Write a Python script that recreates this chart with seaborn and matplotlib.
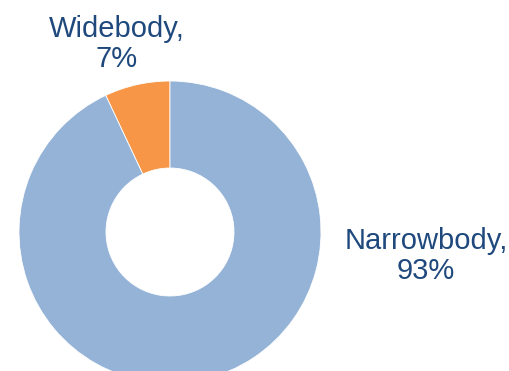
import matplotlib
matplotlib.use("Agg")
import matplotlib.pyplot as plt
import seaborn as sns

categories = ["Widebody", "Narrowbody"]
shares = [7, 93]
labels = ["Widebody,\n7%", "Narrowbody,\n93%"]

sns.set_theme(style="white")
plt.rcParams['font.family'] = ['Liberation Sans', 'DejaVu Sans']

colors = ["#F79646", "#95B3D7"]
text_color = "#1F497D"

W, H = 510, 371
fig = plt.figure(figsize=(W / 100, H / 100), dpi=100)
ax = fig.add_axes([0, 0, 1, 1])

cx, cy = 170, H - 232
r_out, r_in = 151, 64
ax.pie(shares, colors=colors, startangle=90, counterclock=True,
       center=(cx, cy), radius=r_out,
       wedgeprops=dict(width=r_out - r_in, edgecolor="white", linewidth=0.6))

label_pos = [(117, H - 44), (426, H - 256)]
for lab, (x, y) in zip(labels, label_pos):
    ax.text(x, y, lab, ha="center", va="center", fontsize=21,
            color=text_color, linespacing=1.05)

ax.set_xlim(0, W)
ax.set_ylim(0, H)
ax.set_aspect("equal")
ax.axis("off")
fig.savefig("out.png", dpi=100)
